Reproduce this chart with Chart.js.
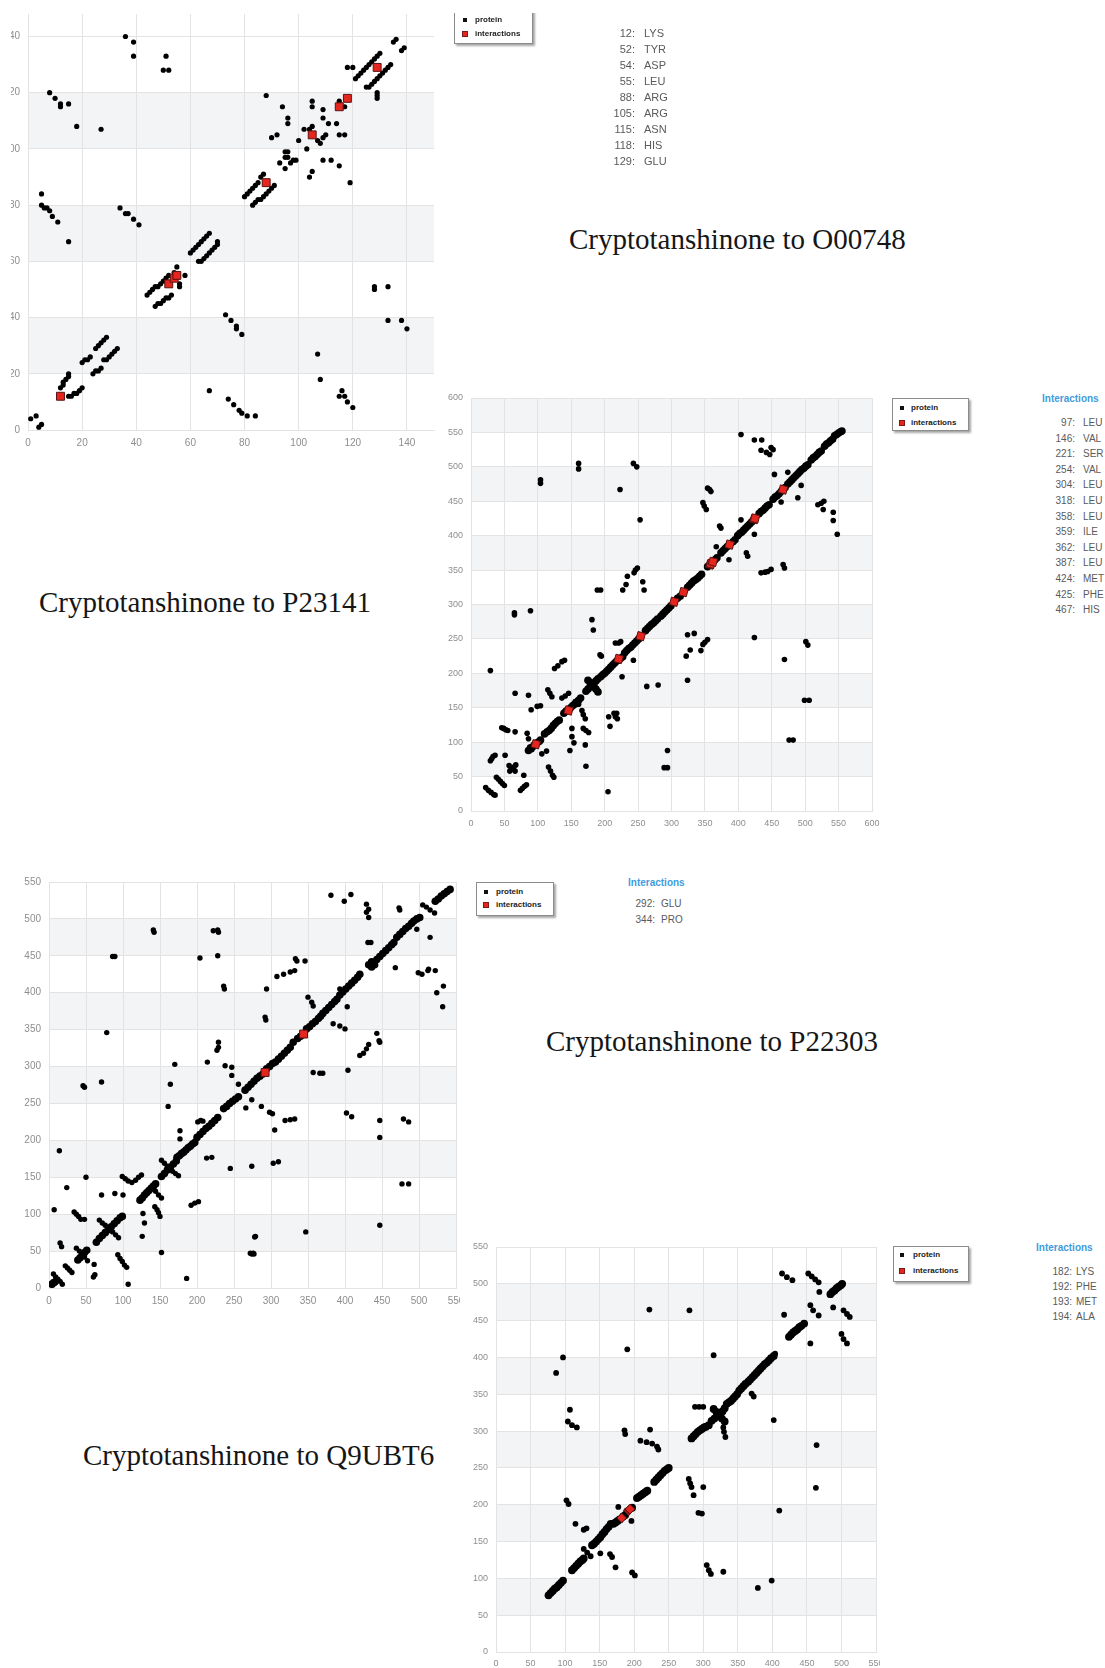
<!DOCTYPE html>
<html>
<head>
<meta charset="utf-8">
<title>Cryptotanshinone contact maps</title>
<script src="https://cdn.jsdelivr.net/npm/chart.js@4.4.0/dist/chart.umd.min.js"></script>
<style>
  body { margin: 0; width: 1105px; height: 1668px; background: #fff; position: relative; overflow: hidden;
         font-family: "Liberation Sans", Arial, sans-serif; }
  .clip { position: absolute; overflow: hidden; }
  canvas { position: absolute; }
  .title { position: absolute; font-family: "Liberation Serif", "Times New Roman", serif; font-size: 29px;
           line-height: 29px; color: #161616; white-space: nowrap; }
  .legend { position: absolute; background: #fff; border: 1px solid #8c8c8c; box-shadow: 2px 2px 2px rgba(0,0,0,0.35); }
  .sw { position: absolute; width: 4px; height: 4px; }
  .lt { position: absolute; font-size: 8px; line-height: 10px; font-weight: bold; color: #222; white-space: nowrap; }
  .hdr { position: absolute; font-size: 10px; line-height: 12px; font-weight: bold; color: #3f9cdc; white-space: nowrap; }
  .num, .res { position: absolute; color: #5a5a5a; white-space: nowrap; }
  .num { text-align: right; width: 40px; }
</style>
</head>
<body>

<!-- contact map 1 (O00748), cut at the page edge -->
<div class="clip" style="left:11px; top:0px; width:436px; height:460px;">
  <canvas id="mapO00748" width="458" height="452" style="left:-23px; top:0px;"></canvas>
</div>
<!-- contact map 2 (P23141) -->
<canvas id="mapP23141" width="459" height="451" style="left:431px; top:382px;"></canvas>
<!-- contact map 3 (P22303) -->
<div class="clip" style="left:0px; top:860px; width:460px; height:460px;">
  <canvas id="mapP22303" width="465" height="446" style="left:9px; top:6px;"></canvas>
</div>
<!-- contact map 4 (Q9UBT6) -->
<div class="clip" style="left:440px; top:1235px; width:440px; height:433px;">
  <canvas id="mapQ9UBT6" width="438" height="443" style="left:16px; top:-4px;"></canvas>
</div>

<div class="title" style="left:569px; top:225px;">Cryptotanshinone to O00748</div>
<div class="title" style="left:39px; top:588px;">Cryptotanshinone to P23141</div>
<div class="title" style="left:546px; top:1027px;">Cryptotanshinone to P22303</div>
<div class="title" style="left:83px; top:1441px;">Cryptotanshinone to Q9UBT6</div>

<div class="clip" id="topRight" style="left:440px; top:13px; width:300px; height:200px;"></div>

<script>
// === Data ====================================================================
// O00748 (residue pairs in contact, off the main diagonal)
const o00748Protein = [
  [36,140],[39,138],[39,133],[51,133],[50,128],[52,128],
  [8,120],[10,118],[12,116],[12,115],[15,116],[18,108],[27,107],
  [135,138],[136,139],[138,135],[139,136],
  [121,125],[122,126],[123,127],[124,128],[125,129],[126,130],[127,131],[128,132],[129,133],[130,134],
  [125,122],[126,122],[127,123],[128,124],[129,125],[130,126],[131,127],[132,128],[133,129],[134,130],
  [118,129],[120,129],[129,120],[129,119],[129,118],
  [115,117],[117,115],[105,117],[105,115],[109,114],[109,111],[111,109],[114,109],[94,115],[88,119],[96,111],[96,109],
  [102,107],[104,107],[105,108],[107,103],[108,102],[109,104],[110,105],
  [115,105],[117,105],[90,104],[92,105],[100,103],[103,100],
  [95,99],[96,99],[95,97],[96,97],[93,95],[95,93],[97,95],[98,96],[99,96],
  [109,96],[112,96],[115,94],[105,92],[104,90],[119,88],
  [80,83],[81,84],[82,85],[83,86],[84,87],[85,88],[86,90],[87,91],
  [83,80],[84,81],[85,82],[86,82],[87,83],[88,84],[89,85],[90,86],[91,87],
  [44,48],[45,49],[46,50],[47,51],[48,51],[49,52],[50,53],[51,54],[52,55],[54,56],[55,58],[58,55],
  [47,44],[48,45],[49,45],[50,46],[51,47],[52,47],[53,48],[56,52],[56,51],
  [60,63],[61,64],[62,65],[63,66],[64,67],[65,68],[66,69],[67,70],
  [63,60],[64,60],[65,61],[66,62],[67,63],[68,64],[69,65],[70,66],[70,67],
  [12,15],[13,16],[13,17],[14,18],[15,19],[15,20],
  [15,12],[16,12],[17,13],[18,13],[19,14],[20,15],
  [20,24],[21,25],[22,25],[23,26],
  [25,29],[26,30],[27,31],[28,32],[29,33],
  [24,20],[25,21],[26,21],[27,22],
  [28,25],[29,25],[30,26],[31,27],[32,28],[33,29],
  [1,4],[3,5],[4,1],[5,2],
  [5,84],[5,80],[6,79],[7,79],[8,78],[9,76],[11,74],[15,67],
  [34,79],[36,77],[37,77],[39,75],[41,73],
  [128,51],[128,50],[133,51],[133,39],[138,39],[140,36],
  [73,41],[75,39],[77,37],[77,36],[79,34],
  [67,14],[74,11],[76,9],[78,7],[79,6],[81,5],[84,5],
  [107,27],[108,18],[116,14],[115,12],[117,12],[118,10],[120,8]
];
const o00748Residues = [12, 52, 54, 55, 88, 105, 115, 118, 129];
const o00748Names = ["LYS", "TYR", "ASP", "LEU", "ARG", "ARG", "ASN", "HIS", "GLU"];

// P23141
const p23141Diagonal = [
  [86,88],[89,91],[92,93],[95,96],[99,99],[102,101],[104,103],
  [110,112],[114,115],[117,117],[120,120],[123,124],[126,127],[129,130],[132,132],
  [139,142],[142,145],[145,147],[149,150],[152,153],[155,155],[158,158],[161,161],[164,164],
  [172,174],[175,177],[178,180],[181,183],[184,186],[187,189],[190,192],
  [175,190],[178,187],[184,180],[187,177],[190,173],
  [194,195],[197,198],[200,200],[203,203],[206,206],[209,209],[212,212],[215,215],[218,218],[221,219],[224,222],[227,224],
  [230,230],[233,233],[236,236],[239,238],[242,241],[245,244],[248,247],[251,250],
  [261,262],[264,265],[267,268],[270,271],[273,273],[276,276],[279,279],
  [284,283],[287,286],[290,289],[293,292],[296,295],[299,298],
  [309,309],[313,312],
  [324,325],[327,328],[330,331],[333,334],[336,336],[339,338],[342,341],[345,344],
  [354,355],[357,357],[360,360],[365,365],[368,368],
  [374,375],[377,378],[380,381],[383,384],[386,386],[392,391],[395,394],
  [399,400],[402,403],[405,405],[408,408],[411,411],[414,414],[417,417],[420,420],[423,423],
  [431,432],[434,435],[437,437],[440,440],[443,443],[446,445],
  [452,453],[455,456],[458,458],[461,461],[464,464],[470,470],
  [474,475],[477,478],[480,481],[483,484],[486,487],[489,490],[492,493],[495,496],[498,498],[501,501],[504,503],
  [509,510],[512,513],[515,515],[518,518],[521,521],[524,523],
  [529,530],[532,533],[535,535],[538,538],[541,540],
  [544,545],[547,547],[550,549],[553,551],[555,552]
];
const p23141Protein = [
  [404,547],[424,539],[435,539],[434,524],[442,521],[447,518],[449,528],[452,525],
  [161,505],[161,497],[243,505],[248,500],[104,481],[104,476],[223,467],[253,423],
  [454,489],[474,492],[452,452],[489,455],[494,473],[464,449],
  [519,445],[524,447],[528,450],[527,438],[542,434],[542,422],[548,402],
  [354,469],[357,467],[359,464],[347,448],[349,443],[352,438],
  [372,414],[374,411],[404,423],[424,402],[412,375],[414,370],[386,365],[367,384],
  [434,346],[440,347],[444,348],[449,351],[467,358],[469,353],
  [234,341],[244,346],[246,350],[249,353],[227,321],[232,329],[257,333],[259,321],
  [189,321],[194,321],
  [324,256],[334,258],[328,234],[322,225],[344,233],[347,242],[350,245],[354,249],[324,190],
  [181,278],[183,263],[216,244],[221,244],[224,246],[226,195],[195,225],[193,227],[222,220],[243,219],
  [263,181],[280,183],[469,220],[424,252],[501,246],[504,241],[499,161],[506,161],[476,103],[482,103],
  [294,88],[289,63],[294,63],[214,142],[216,137],[219,134],[206,137],[218,142],[208,123],[205,28],
  [29,204],[65,288],[65,285],[89,291],[66,171],[86,168],[90,147],[99,152],[104,153],
  [115,176],[118,171],[121,166],[125,207],[130,211],[136,217],[140,219],
  [136,164],[141,167],[146,171],[156,159],[161,155],
  [166,146],[168,140],[171,134],[168,120],[172,117],[176,114],[151,108],[154,99],[148,88],[172,65],[171,96],
  [151,120],[46,121],[49,120],[52,118],[55,117],[66,115],
  [84,113],[86,105],[88,93],[91,89],[106,83],[113,87],
  [116,64],[119,58],[122,52],[124,49],[51,81],
  [29,73],[31,76],[33,79],[36,81],
  [38,49],[41,46],[44,43],[47,40],[50,37],
  [22,34],[26,30],[30,27],[34,24],[36,23],
  [74,30],[77,33],[80,36],[83,38],[79,52],
  [57,66],[60,63],[63,61],[66,58],[58,58],[61,61],[64,64],[67,67]
];
const p23141Residues = [97, 146, 221, 254, 304, 318, 358, 359, 362, 387, 424, 425, 467];
const p23141Names = ["LEU", "VAL", "SER", "VAL", "LEU", "LEU", "LEU", "ILE", "LEU", "LEU", "MET", "PHE", "HIS"];

// P22303
const p22303Diagonal = [
  [4,5],[6,7],[8,8],
  [39,38],[42,41],[45,45],[48,48],[51,51],
  [64,62],[68,67],[72,71],[76,75],[80,79],[84,83],[88,87],[92,91],[96,95],[99,97],
  [123,119],[126,122],[129,126],[132,129],[135,132],[138,135],[141,138],[144,141],
  [152,151],[156,155],[160,160],[164,164],[168,168],[172,172],
  [173,177],[176,179],[179,182],[182,184],[185,187],[188,190],[191,192],[194,195],[197,197],
  [200,204],[204,208],[208,212],[212,216],[216,219],[220,223],[224,227],[228,231],
  [236,243],[240,246],[244,250],[248,253],[252,256],[256,259],
  [265,268],[269,272],[273,276],[277,280],[281,284],[285,287],[289,290],
  [294,297],[298,300],[302,304],[306,306],[310,310],[314,314],[318,318],[322,322],[326,326],[330,333],
  [336,338],[340,341],[348,351],[352,354],[356,358],[360,361],[364,365],[367,368],
  [370,372],[374,376],[378,380],[382,384],[386,388],[389,391],
  [393,397],[397,401],[401,405],[405,409],[409,413],[413,417],[417,421],[420,425],
  [432,438],[436,442],[440,438],[436,435],
  [443,445],[447,449],[451,453],[455,457],[459,461],[463,465],[466,468],
  [470,475],[474,479],[478,483],[482,487],[486,490],[490,494],[493,497],[497,500],[501,502],
  [522,524],[526,527],[530,531],[534,534],[538,537],[542,540]
];
const p22303Protein = [
  [6,19],[9,15],[12,12],[15,9],[18,5],
  [22,30],[25,27],[28,24],[31,21],
  [15,61],[17,56],[34,103],[37,100],[40,97],[43,93],[48,93],[50,150],[24,136],[14,186],[7,106],
  [37,54],[41,50],[48,42],[52,37],
  [61,32],[60,15],[62,18],
  [68,92],[72,88],[76,85],[79,82],[86,76],[90,72],[94,68],
  [93,45],[96,40],[99,36],[102,31],[105,28],[107,5],
  [89,128],[100,126],[71,126],
  [99,151],[103,148],[107,145],[112,143],[117,146],[121,150],[125,153],
  [139,135],[144,131],[148,126],[152,122],[143,110],[146,106],[148,102],[150,97],
  [127,101],[129,88],[126,70],
  [152,173],[156,169],[160,165],[167,158],[171,155],[175,152],
  [186,13],[152,48],[192,112],[197,115],[202,117],[177,213],[177,202],
  [201,225],[205,227],[208,226],[213,176],[220,177],[245,162],[274,165],[279,70],[274,46],[277,46],
  [164,276],[46,274],[48,272],[71,279],[161,246],
  [170,303],[214,306],[238,301],[247,299],[247,288],[256,276],
  [266,244],[274,255],[287,246],[298,238],[302,236],[305,214],
  [303,169],[310,171],[319,227],[326,228],[332,229],[357,292],[366,291],[370,291],[404,295],[402,237],[409,232],
  [447,227],[447,204],[479,229],[486,225],[477,141],[486,141],[447,85],[347,76],[278,69],[272,47],[276,47],
  [420,315],[425,318],[429,324],[432,330],[443,345],[446,335],[447,333],[384,358],[393,355],[400,351],
  [381,532],[399,524],[408,533],[429,520],[429,509],[432,513],[432,502],[431,468],[435,468],[473,515],[474,512],
  [468,434],[499,427],[504,425],[512,430],[513,432],[522,430],[497,486],[515,475],[524,400],[533,409],[532,381],
  [403,381],[393,405],[350,394],[355,387],[357,382],[294,405],[333,446],[335,443],[346,443],
  [308,422],[317,425],[326,428],[332,430],[292,367],[293,363],[236,409],[237,405],[229,482],[228,485],[222,484],
  [204,447],[228,450],[141,485],[142,482],[86,449],[89,449],[78,346],[229,333],[229,326],[227,322],
  [505,519],[510,516],[515,512],[521,508]
];
const p22303Residues = [292, 344];
const p22303Names = ["GLU", "PRO"];

// Q9UBT6
const q9ubt6Diagonal = [
  [76,77],[79,80],[82,83],[85,86],[88,88],[91,91],[94,94],[97,97],
  [110,111],[113,114],[116,117],[119,120],[122,123],[125,125],[127,127],
  [139,145],[142,147],[145,150],[148,153],[151,156],[154,160],[157,163],[160,167],[163,170],[166,174],
  [170,174],[173,176],[176,178],[179,180],[184,184],[187,186],
  [190,191],[197,196],
  [204,209],[207,211],[210,213],[213,215],[216,217],[219,219],
  [229,231],[232,234],[235,237],[238,240],[241,243],[244,246],[247,248],[250,250],
  [283,290],[286,293],[289,296],[292,299],[295,301],[298,303],[301,305],[304,306],[308,308],
  [312,314],[316,317],[320,320],[324,324],[328,327],[331,331],
  [315,330],[319,326],[323,322],[327,317],[331,313],
  [334,337],[337,339],[340,341],[343,344],[346,347],[349,350],[352,355],[355,358],[358,361],[361,364],[365,367],
  [368,370],[371,373],[374,376],[377,379],[380,382],[383,385],[386,388],[389,391],[392,393],[395,396],[398,399],[402,402],
  [424,428],[427,431],[430,434],[433,436],[436,438],[439,441],[442,443],[446,446],
  [484,486],[487,489],[490,491],[493,494],[496,496],[499,498],[501,500]
];
const q9ubt6Protein = [
  [222,465],[280,464],[190,411],[97,400],[87,379],[107,329],[104,313],[110,308],[117,305],
  [186,301],[187,296],[223,302],[209,287],[218,285],[226,283],[233,279],[235,275],
  [315,403],[404,405],[417,458],[402,315],[455,419],[464,281],[463,223],
  [414,514],[421,509],[429,505],[452,514],[457,510],[462,506],[467,502],
  [455,471],[459,464],[467,457],[468,489],[488,468],[503,464],[508,459],[512,455],[500,432],[503,425],[508,419],
  [288,333],[294,333],[300,333],[329,305],[330,299],[332,292],[370,351],[373,347],
  [279,235],[281,229],[283,224],[286,213],[300,224],[293,189],[298,188],
  [305,118],[308,111],[311,106],[329,109],[379,87],[399,97],[410,192],
  [102,206],[105,201],[115,174],[127,166],[131,168],[127,140],[132,135],[137,130],[151,134],[165,133],[168,129],[173,115],[197,108],[201,104],
  [177,197],[196,178]
];
const q9ubt6Residues = [182, 192, 193, 194];
const q9ubt6Names = ["LYS", "PHE", "MET", "ALA"];

// === Alternating grey bands between y ticks ==================================
const bandPlugin = {
  id: "bands",
  beforeDraw(chart) {
    const { ctx, chartArea, scales } = chart;
    const ticks = scales.y.ticks;
    ctx.save();
    ctx.fillStyle = "#f3f4f6";
    for (let i = 1; i < ticks.length - 1; i += 2) {
      const y0 = scales.y.getPixelForValue(ticks[i].value);
      const y1 = scales.y.getPixelForValue(ticks[i + 1].value);
      ctx.fillRect(chartArea.left, y1, chartArea.right - chartArea.left, y0 - y1);
    }
    ctx.restore();
  }
};

function axis(max, step, fontSize, pad, fit) {
  return {
    type: "linear",
    min: 0,
    max: max,
    ticks: {
      stepSize: step,
      includeBounds: false,
      maxRotation: 0,
      padding: pad,
      color: "#8e8e8e",
      font: { family: "Liberation Sans", size: fontSize }
    },
    grid: { color: "#e3e3e3", drawTicks: false },
    border: { color: "#e3e3e3" },
    afterFit: fit
  };
}

function toPoints(list) {
  return list.map(p => ({ x: p[0], y: p[1] }));
}

// === Contact map =============================================================
function renderContactMap(id, cfg) {
  new Chart(document.getElementById(id), {
    type: "scatter",
    data: {
      datasets: [
        {
          label: "interactions",
          data: cfg.residues.map(r => ({ x: r, y: r })),
          pointStyle: "rect",
          rotation: cfg.markRotation,
          pointRadius: cfg.markRadius,
          backgroundColor: "#e5261f",
          borderColor: "#5b1212",
          borderWidth: 1
        },
        {
          label: "protein",
          data: toPoints(cfg.protein),
          pointStyle: "circle",
          pointRadius: cfg.dotRadius,
          backgroundColor: "#000",
          borderWidth: 0
        },
        {
          label: "protein",
          data: toPoints(cfg.diagonal),
          pointStyle: "circle",
          pointRadius: cfg.diagRadius,
          backgroundColor: "#000",
          borderWidth: 0
        }
      ]
    },
    options: {
      responsive: false,
      animation: false,
      events: [],
      layout: { padding: { top: cfg.padTop, right: cfg.padRight, left: 0, bottom: 0 } },
      scales: {
        x: axis(cfg.xMax, cfg.step, cfg.fontSize, cfg.xPad, s => { s.height = cfg.xHeight; }),
        y: axis(cfg.yMax, cfg.step, cfg.fontSize, 8, s => { s.width = 40; })
      },
      plugins: { legend: { display: false }, tooltip: { enabled: false } }
    },
    plugins: [bandPlugin]
  });
}

// === Legend box and residue list (HTML) ======================================
function addLegend(parent, ox, oy, box, rows, swatchX, textX) {
  const lg = document.createElement("div");
  lg.className = "legend";
  lg.style.left = (box[0] - ox) + "px";
  lg.style.top = (box[1] - oy) + "px";
  lg.style.width = box[2] + "px";
  lg.style.height = box[3] + "px";
  parent.appendChild(lg);
  ["protein", "interactions"].forEach((txt, i) => {
    const sw = document.createElement("div");
    sw.className = "sw";
    sw.style.left = (swatchX - ox) + "px";
    sw.style.top = (rows[i] - 2 - oy) + "px";
    sw.style.background = i === 0 ? "#111" : "#e5261f";
    if (i === 1) sw.style.boxShadow = "0 0 0 1px #7a1a1a";
    parent.appendChild(sw);
    const t = document.createElement("div");
    t.className = "lt";
    t.style.left = (textX - ox) + "px";
    t.style.top = (rows[i] - 5 - oy) + "px";
    t.textContent = txt;
    parent.appendChild(t);
  });
}

function addList(parent, ox, oy, residues, names, o) {
  const h = document.createElement("div");
  h.className = "hdr";
  h.style.left = (o.hdrX - ox) + "px";
  h.style.top = (o.hdrY - 6 - oy) + "px";
  h.textContent = "Interactions";
  parent.appendChild(h);
  residues.forEach((r, i) => {
    const y = o.firstY + i * o.step;
    const n = document.createElement("div");
    n.className = "num";
    n.style.fontSize = o.fs + "px";
    n.style.lineHeight = o.fs + "px";
    n.style.left = (o.numRight - 40 - ox) + "px";
    n.style.top = (y - o.fs / 2 - oy) + "px";
    n.textContent = r + ":";
    parent.appendChild(n);
    const s = document.createElement("div");
    s.className = "res";
    s.style.fontSize = o.fs + "px";
    s.style.lineHeight = o.fs + "px";
    s.style.left = (o.nameLeft - ox) + "px";
    s.style.top = (y - o.fs / 2 - oy) + "px";
    s.textContent = names[i];
    parent.appendChild(s);
  });
}

window.addEventListener("DOMContentLoaded", () => {
  renderContactMap("mapO00748", {
    protein: o00748Protein, diagonal: [], residues: o00748Residues,
    xMax: 150, yMax: 148, step: 20, fontSize: 10, xPad: 7, xHeight: 22, padTop: 14, padRight: 12,
    dotRadius: 2.6, diagRadius: 2.6, markRadius: 5.6, markRotation: 0
  });
  renderContactMap("mapP23141", {
    protein: p23141Protein, diagonal: p23141Diagonal, residues: p23141Residues,
    xMax: 600, yMax: 600, step: 50, fontSize: 9, xPad: 7, xHeight: 22, padTop: 16, padRight: 18,
    dotRadius: 2.8, diagRadius: 3.8, markRadius: 5.4, markRotation: 15
  });
  renderContactMap("mapP22303", {
    protein: p22303Protein, diagonal: p22303Diagonal, residues: p22303Residues,
    xMax: 550, yMax: 550, step: 50, fontSize: 10, xPad: 7, xHeight: 24, padTop: 16, padRight: 18,
    dotRadius: 2.7, diagRadius: 3.8, markRadius: 5.6, markRotation: 0
  });
  renderContactMap("mapQ9UBT6", {
    protein: q9ubt6Protein, diagonal: q9ubt6Diagonal, residues: q9ubt6Residues,
    xMax: 550, yMax: 550, step: 50, fontSize: 9, xPad: 6, xHeight: 22, padTop: 16, padRight: 18,
    dotRadius: 2.9, diagRadius: 3.9, markRadius: 4.8, markRotation: 45
  });

  const body = document.body;
  const top = document.getElementById("topRight");
  addLegend(top, 440, 13, [454, 4, 77, 38], [20, 34], 463, 475);
  addList(top, 440, 13, o00748Residues, o00748Names,
    { hdrX: 603, hdrY: 8, firstY: 33, step: 16.1, fs: 11, numRight: 635, nameLeft: 644 });

  addLegend(body, 0, 0, [892, 398, 75, 31], [408, 423], 900, 911);
  addList(body, 0, 0, p23141Residues, p23141Names,
    { hdrX: 1042, hdrY: 399, firstY: 423, step: 15.6, fs: 10, numRight: 1075, nameLeft: 1083 });

  addLegend(body, 0, 0, [476, 882, 76, 32], [892, 905], 484, 496);
  addList(body, 0, 0, p22303Residues, p22303Names,
    { hdrX: 628, hdrY: 883, firstY: 904, step: 15.7, fs: 10, numRight: 655, nameLeft: 661 });

  addLegend(body, 0, 0, [893, 1246, 74, 34], [1255, 1271], 900, 913);
  addList(body, 0, 0, q9ubt6Residues, q9ubt6Names,
    { hdrX: 1036, hdrY: 1248, firstY: 1272, step: 15, fs: 10, numRight: 1072, nameLeft: 1076 });
});
</script>
</body>
</html>
